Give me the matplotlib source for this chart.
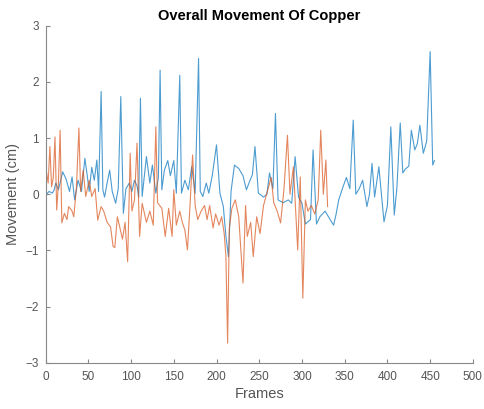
import numpy as np
import matplotlib.pyplot as plt

plt.rcParams['font.family'] = ['Liberation Sans', 'DejaVu Sans']

# blue series (frame, movement in cm)
blue_frames = [1, 4, 8, 10, 12, 15, 20, 24, 28, 31, 34, 38, 42, 46, 49, 51, 54, 57, 60, 62,
               65, 67, 69, 72, 75, 78, 82, 85, 88, 91, 94, 98, 101, 104, 107, 109, 111, 113,
               118, 122, 125, 129, 132, 134, 136, 139, 143, 146, 150, 153, 157, 159, 163,
               167, 171, 175, 179, 181, 184, 188, 191, 195, 200, 204, 208, 211, 214, 217,
               221, 226, 231, 235, 238, 242, 245, 249, 255, 259, 262, 266, 269, 272, 278,
               284, 288, 292, 296, 300, 304, 310, 313, 317, 321, 327, 333, 337, 340, 343,
               348, 352, 356, 360, 363, 367, 371, 376, 379, 382, 385, 390, 393, 396, 400,
               404, 408, 411, 415, 418, 421, 425, 428, 432, 435, 438, 442, 446, 450, 453,
               455]
blue_vals = [0.0, 0.05, 0.02, 0.08, 0.2, 0.08, 0.4, 0.27, 0.05, 0.31, -0.1, 0.25, 0.05,
             0.64, 0.3, 0.05, 0.48, 0.25, 0.61, 0.05, 1.83, 0.08, -0.05, 0.2, 0.43, 0.05,
             -0.16, 0.1, 1.74, -0.34, 0.1, 0.2, 0.05, 0.25, 0.15, -0.05, 1.71, -0.04, 0.67,
             0.2, 0.52, 0.02, 0.3, 2.21, 0.08, 0.43, 0.6, 0.33, 0.6, 0.02, 2.12, 0.02, 0.25,
             0.08, 0.49, 0.02, 2.42, 0.05, -0.04, 0.2, 0.02, 0.33, 0.88, 0.02, -0.22, -0.75,
             -1.11, 0.05, 0.52, 0.46, 0.33, 0.08, 0.2, 0.35, 0.85, 0.02, -0.05, 0.0, 0.38,
             0.1, 1.44, -0.1, -0.15, -0.1, -0.16, 0.67, -0.05, -0.16, -0.53, -0.45, 0.79,
             -0.53, -0.4, -0.3, -0.45, -0.55, -0.35, -0.1, 0.13, 0.3, 0.1, 1.32, 0.0, 0.1,
             0.25, -0.22, 0.0, 0.55, -0.05, 0.49, 0.0, -0.49, -0.2, 1.2, -0.37, 0.1, 1.27,
             0.38, 0.45, 0.5, 1.14, 0.79, 0.9, 1.23, 0.73, 0.95, 2.54, 0.52, 0.6]

# orange series
orange_frames = [1, 3, 5, 7, 9, 11, 13, 15, 17, 19, 22, 25, 27, 31, 33, 36, 39, 41, 44, 47,
                 51, 54, 58, 61, 65, 68, 72, 76, 79, 81, 84, 87, 90, 93, 96, 99, 101, 104,
                 107, 110, 113, 118, 122, 126, 129, 131, 136, 140, 144, 148, 150, 153, 157,
                 160, 163, 166, 169, 172, 175, 178, 182, 186, 189, 192, 196, 199, 203, 206,
                 209, 211, 213, 215, 218, 222, 226, 231, 234, 236, 240, 243, 247, 251, 255,
                 260, 264, 267, 271, 275, 279, 283, 286, 290, 295, 298, 301, 304, 307, 311,
                 315, 319, 322, 325, 328, 330]
orange_vals = [0.4, 0.2, 0.85, 0.13, 0.3, 1.02, -0.28, 0.2, 1.14, -0.51, -0.34, -0.45,
               -0.22, -0.3, -0.4, 0.1, 1.18, 0.05, 0.43, -0.04, 0.25, -0.04, 0.1, -0.46,
               -0.22, -0.3, -0.5, -0.58, -0.93, -0.95, -0.4, -0.6, -0.8, -0.5, -1.2, 0.73,
               -0.3, -0.1, 0.91, -0.75, -0.16, -0.5, -0.3, -0.55, 1.2, -0.15, -0.25, -0.75,
               -0.25, -0.75, 0.08, -0.55, -0.3, -0.5, -0.64, -0.99, -0.2, 0.7, -0.2, -0.45,
               -0.3, -0.2, -0.45, -0.2, -0.6, -0.35, -0.55, -0.4, -0.7, -1.1, -2.65, -0.6,
               -0.25, -0.1, -0.4, -1.58, -0.2, -0.75, -0.5, -1.11, -0.4, -0.7, -0.2, 0.08,
               0.3, -0.15, -0.3, -0.51, 0.1, 1.05, 0.0, 0.49, -0.99, 0.31, -1.85, -0.1, -0.3,
               -0.2, -0.35, -0.1, 1.14, 0.0, 0.61, -0.22]

xticks = np.arange(0, 501, 50)
yticks = np.arange(-3, 4, 1)

fig = plt.figure(figsize=(4.85, 4.09), dpi=100)
ax = fig.add_axes([0.094, 0.113, 0.881, 0.824])

ax.plot(blue_frames, blue_vals, color='#0072BD', lw=0.8, alpha=0.7)
ax.plot(orange_frames, orange_vals, color='#D95319', lw=0.8, alpha=0.7)

ax.set_xlim(0, 500)
ax.set_ylim(-3, 3)
ax.set_xticks(xticks)
ax.set_yticks(yticks)

grey = '#555555'
for s in ['top', 'right']:
    ax.spines[s].set_visible(False)
for s in ['left', 'bottom']:
    ax.spines[s].set_color('#888888')
    ax.spines[s].set_linewidth(0.8)
ax.tick_params(direction='in', length=3, colors='#888888', labelcolor=grey, labelsize=8.5)
ax.tick_params(axis='x', pad=6)
ax.tick_params(axis='y', pad=5)

ax.set_xlabel('Frames', fontsize=10.5, color=grey, labelpad=3)
ax.set_ylabel('Movement (cm)', fontsize=10.5, color=grey, labelpad=4)
ax.set_title('Overall Movement Of Copper', fontsize=10.5, fontweight='bold', pad=4)

fig.savefig('out.png', dpi=100)
